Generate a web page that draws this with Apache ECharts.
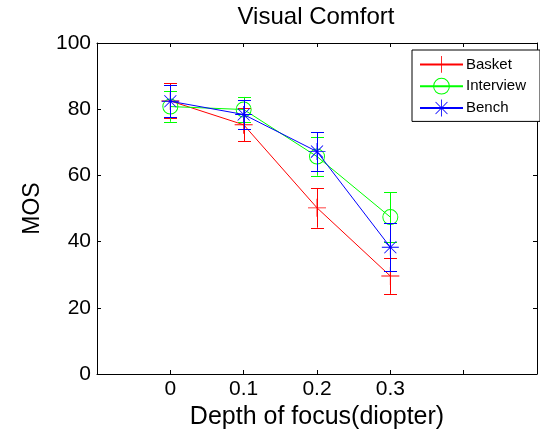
<!DOCTYPE html>
<html>
<head>
<meta charset="utf-8">
<script src="https://cdn.jsdelivr.net/npm/echarts@6/dist/echarts.min.js"></script>
<style>
html,body{margin:0;padding:0;background:#fff;}
#chart{width:540px;height:435px;}
</style>
</head>
<body>
<div id="chart"></div>
<script>
// ---- data ----
const categories = [0, 0.1, 0.2, 0.3];
const tickLabels = ['0', '0.1', '0.2', '0.3'];
const seriesNames = ['Basket', 'Interview', 'Bench'];
const basketMOS = [82.5, 75.3, 50.2, 29.6];
const basketErr = [5.3, 5.0, 6.0, 5.4];
const interviewMOS = [80.8, 79.9, 65.7, 47.4];
const interviewErr = [4.6, 3.8, 5.8, 7.5];
const benchMOS = [82.4, 78.4, 67.2, 38.3];
const benchErr = [4.8, 4.5, 5.8, 7.2];
const yMin = 0, yMax = 100, yStep = 20;
const xMin = -0.1, xMax = 0.5, xStep = 0.1;

// ---- styling ----
const FONT = 'Liberation Sans, Arial, Helvetica, sans-serif';
const colors = ['#ff0000', '#00ff00', '#0000ff'];
const plusPath = 'path://M-0.05,-1H0.05V1H-0.05ZM-1,-0.05H1V0.05H-1Z';
const ringPath = 'path://M0,-1A1,1,0,1,1,0,1A1,1,0,1,1,0,-1ZM0,-0.88A0.88,0.88,0,1,0,0,0.88A0.88,0.88,0,1,0,0,-0.88Z';
const starPath = 'path://M-0.05,-1H0.05V1H-0.05ZM-1,-0.05H1V0.05H-1Z' +
  'M-0.672,-0.742L0.742,0.672L0.672,0.742L-0.742,-0.672Z' +
  'M0.742,-0.672L-0.672,0.742L-0.742,0.672L0.672,-0.742Z';
const symbols = [plusPath, ringPath, starPath];
const symbolSizes = [18, 16, 17];
const means = [basketMOS, interviewMOS, benchMOS];
const errs = [basketErr, interviewErr, benchErr];

function makeErr(color) {
  return function (params, api) {
    const x = api.value(0), lo = api.value(1), hi = api.value(2);
    const p1 = api.coord([x, hi]);
    const p2 = api.coord([x, lo]);
    const hw = 6.5;
    const cx = Math.round(p1[0]) + 0.5;
    const style = { stroke: color, lineWidth: 1, fill: null };
    return {
      type: 'group',
      children: [
        { type: 'line', shape: { x1: cx, y1: p1[1], x2: cx, y2: p2[1] }, style: style },
        { type: 'line', shape: { x1: cx - hw, y1: Math.round(p1[1]) + 0.5, x2: cx + hw, y2: Math.round(p1[1]) + 0.5 }, style: style },
        { type: 'line', shape: { x1: cx - hw, y1: Math.round(p2[1]) + 0.5, x2: cx + hw, y2: Math.round(p2[1]) + 0.5 }, style: style }
      ]
    };
  };
}

const series = [];
for (let s = 0; s < 3; s++) {
  series.push({
    name: seriesNames[s] + ' err',
    type: 'custom',
    renderItem: makeErr(colors[s]),
    encode: { x: 0, y: [1, 2] },
    data: categories.map((c, i) => [c, means[s][i] - errs[s][i], means[s][i] + errs[s][i]]),
    silent: true,
    z: 2 + s * 2
  });
  series.push({
    name: seriesNames[s],
    type: 'line',
    data: categories.map((c, i) => [c, means[s][i]]),
    symbol: symbols[s],
    symbolSize: symbolSizes[s],
    showSymbol: true,
    itemStyle: { color: colors[s] },
    lineStyle: { color: colors[s], width: 1 },
    emphasis: { disabled: true },
    z: 3 + s * 2
  });
}

function xLabel(v) {
  const i = categories.findIndex(c => Math.abs(c - v) < 1e-9);
  return i >= 0 ? tickLabels[i] : '';
}

const axisLineStyle = { show: true, onZero: false, lineStyle: { color: '#000', width: 1 } };
const tickStyle = { show: true, inside: true, length: 4, lineStyle: { color: '#000', width: 1 } };

const option = {
  backgroundColor: '#fff',
  animation: false,
  title: {
    text: 'Visual Comfort',
    left: 311,
    top: 0,
    textAlign: 'center',
    textStyle: { fontFamily: FONT, fontSize: 24, fontWeight: 'normal', color: '#000' }
  },
  legend: {
    data: seriesNames,
    orient: 'vertical',
    left: 412,
    top: 50,
    itemWidth: 43,
    itemHeight: 21,
    itemGap: 5,
    padding: [6, 14, 5, 7],
    borderColor: '#000',
    borderWidth: 1,
    backgroundColor: '#fff',
    selectedMode: false,
    textStyle: { fontFamily: FONT, fontSize: 15, color: '#000', padding: [0, 0, 0, -2] }
  },
  grid: { left: 97, right: 2, top: 43, bottom: 57, containLabel: false },
  xAxis: [
    {
      type: 'value', position: 'bottom', min: xMin, max: xMax, interval: xStep,
      axisLine: axisLineStyle, axisTick: tickStyle, splitLine: { show: false },
      axisLabel: { formatter: xLabel, margin: 5, fontFamily: FONT, fontSize: 21, color: '#000' },
      name: 'Depth of focus(diopter)', nameLocation: 'middle', nameGap: 31,
      nameTextStyle: { fontFamily: FONT, fontSize: 25, color: '#000', verticalAlign: 'top' }
    },
    {
      type: 'value', position: 'top', min: xMin, max: xMax, interval: xStep,
      axisLine: axisLineStyle, axisTick: tickStyle, splitLine: { show: false },
      axisLabel: { show: false }
    }
  ],
  yAxis: [
    {
      type: 'value', position: 'left', min: yMin, max: yMax, interval: yStep,
      axisLine: axisLineStyle, axisTick: tickStyle, splitLine: { show: false },
      axisLabel: { margin: 6, fontFamily: FONT, fontSize: 21, color: '#000' },
      name: 'MOS', nameLocation: 'middle', nameGap: 53,
      nameTextStyle: { fontFamily: FONT, fontSize: 23, color: '#000' }
    },
    {
      type: 'value', position: 'right', min: yMin, max: yMax, interval: yStep,
      axisLine: axisLineStyle, axisTick: tickStyle, splitLine: { show: false },
      axisLabel: { show: false }
    }
  ],
  series: series
};

const chart = echarts.init(document.getElementById('chart'), null, { renderer: 'canvas' });
chart.setOption(option);
</script>
</body>
</html>
